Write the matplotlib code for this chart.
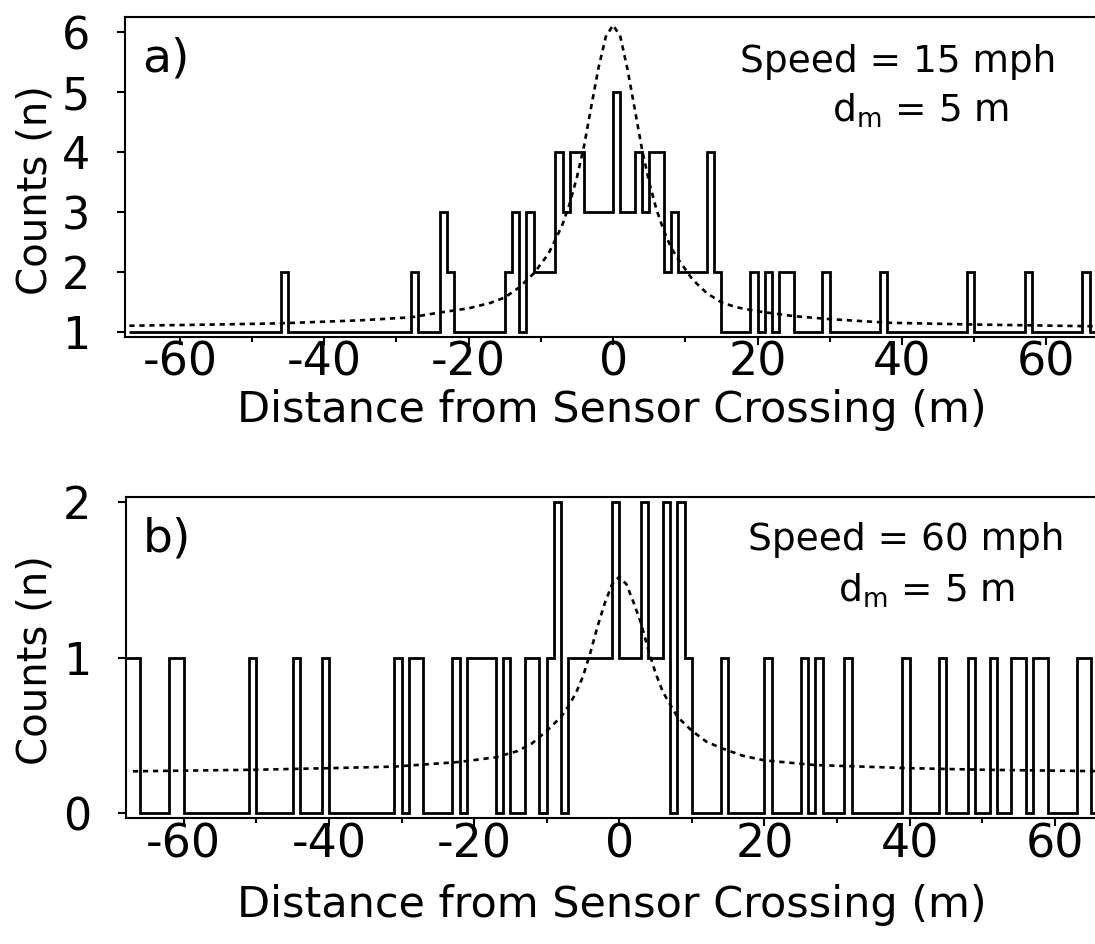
import matplotlib
matplotlib.use("Agg")
import matplotlib.pyplot as plt
from matplotlib.ticker import MultipleLocator
import numpy as np

plt.rcParams['font.family'] = 'DejaVu Sans'
plt.rcParams['axes.unicode_minus'] = False

# histogram a) : 1 m bins, count is 1 except for the bins listed here
top_lo, top_hi, top_base = -67, 68, 1
top_bin_left = [-46, -28, -24, -23, -15, -14, -13, -12, -11, -10,
                -9, -8, -7, -6, -5, -4, -3, -2, -1, 0,
                1, 2, 3, 4, 5, 6, 7, 8, 9, 10,
                11, 12, 13, 14, 19, 21, 23, 24, 29, 37,
                49, 57, 65]
top_bin_count = [2, 2, 3, 2, 2, 3, 1, 3, 2, 2,
                 2, 4, 3, 4, 4, 3, 3, 3, 3, 5,
                 3, 3, 4, 3, 4, 4, 2, 3, 2, 2,
                 2, 2, 4, 2, 2, 2, 2, 2, 2, 2,
                 2, 2, 2]
# fitted curve a)
top_fit_x = [-67, -55, -46, -35, -28, -24, -20, -17, -15, -13, -11, -9, -8, -7, -6, -5, -4, -3, -2, -1,
             0, 1, 2, 3, 4, 5, 6, 7, 8, 9, 11, 13, 15, 17, 20, 25, 30, 38, 50, 67]
top_fit_y = [1.11, 1.13, 1.15, 1.20, 1.25, 1.33, 1.40, 1.49, 1.58, 1.75, 1.98, 2.30, 2.54, 2.80, 3.15, 3.59, 4.12, 4.78, 5.42, 5.93,
             6.12, 5.93, 5.38, 4.72, 4.05, 3.50, 3.05, 2.70, 2.42, 2.22, 1.88, 1.65, 1.50, 1.42, 1.35, 1.27, 1.22, 1.16, 1.13, 1.10]

# histogram b) : 1 m bins, count is 0 except for the bins listed here
bot_lo, bot_hi, bot_base = -68, 68, 0
bot_bin_left = [-68, -67, -62, -61, -51, -45, -41, -31, -29, -28,
                -23, -21, -20, -19, -18, -16, -13, -12, -10, -9,
                -7, -6, -5, -4, -3, -2, -1, 0, 1, 2,
                3, 4, 5, 6, 8, 9, 14, 20, 25, 27,
                31, 39, 44, 48, 51, 54, 55, 57, 58, 63,
                64]
bot_bin_count = [1, 1, 1, 1, 1, 1, 1, 1, 1, 1,
                 1, 1, 1, 1, 1, 1, 1, 1, 1, 2,
                 1, 1, 1, 1, 1, 1, 2, 1, 1, 1,
                 2, 1, 1, 2, 2, 1, 1, 1, 1, 1,
                 1, 1, 1, 1, 1, 1, 1, 1, 1, 1,
                 1]
bot_fit_x = [-67, -50, -40, -31, -22, -17, -14, -12, -10, -8, -7, -6, -5, -4, -3, -2, -1,
             0, 1, 2, 3, 4, 5, 6, 7, 8, 10, 12, 14, 17, 20, 27, 40, 50, 67]
bot_fit_y = [0.27, 0.28, 0.29, 0.30, 0.33, 0.36, 0.40, 0.45, 0.53, 0.62, 0.69, 0.77, 0.88, 1.03, 1.20, 1.35, 1.47,
             1.52, 1.47, 1.35, 1.22, 1.05, 0.90, 0.78, 0.70, 0.62, 0.53, 0.46, 0.42, 0.37, 0.34, 0.31, 0.29, 0.28, 0.27]


def full_counts(lo, hi, base, lefts, counts):
    edges = np.arange(lo, hi + 1)
    vals = np.full(len(edges) - 1, base)
    for b, c in zip(lefts, counts):
        vals[b - lo] = c
    return edges, vals


fig = plt.figure(figsize=(10.95, 9.44), dpi=100)
W, H = 1095, 944

panels = [
    dict(box=(125, 17.3, 982.7, 319.4), xlim=(-67.6, 68.5), ylim=(0.927, 6.25), yticks=[1, 2, 3, 4, 5, 6],
         hist=full_counts(top_lo, top_hi, top_base, top_bin_left, top_bin_count),
         fit=(top_fit_x, top_fit_y), tag='a)', speed='Speed = 15 mph',
         tag_y=0.8297, sp=(0.787, 0.8297), dm=(0.810, 0.673), ylab_y=190, xlab_y=410),
    dict(box=(126, 497.3, 990.6, 321.0), xlim=(-67.95, 68.5), ylim=(-0.032, 2.03), yticks=[0, 1, 2],
         hist=full_counts(bot_lo, bot_hi, bot_base, bot_bin_left, bot_bin_count),
         fit=(bot_fit_x, bot_fit_y), tag='b)', speed='Speed = 60 mph',
         tag_y=0.8305, sp=(0.7874, 0.8358), dm=(0.8083, 0.6748), ylab_y=660, xlab_y=905),
]

for p in panels:
    x0, y0, w, h = p['box']
    ax = fig.add_axes([x0 / W, 1 - (y0 + h) / H, w / W, h / H])
    edges, vals = p['hist']
    ax.stairs(vals, edges, baseline=None, color='black', linewidth=2.0)
    ax.plot(p['fit'][0], p['fit'][1], color='black', linewidth=1.9, dashes=(2.0, 1.8))
    ax.set_xlim(*p['xlim'])
    ax.set_ylim(*p['ylim'])
    ax.xaxis.set_major_locator(MultipleLocator(20))
    ax.xaxis.set_minor_locator(MultipleLocator(10))
    ax.set_yticks(p['yticks'])
    ax.tick_params(which='major', direction='out', length=6, width=1.5)
    ax.tick_params(which='minor', direction='out', length=3.5, width=1.5)
    ax.tick_params(axis='x', labelsize=33, pad=-3)
    ax.tick_params(axis='y', labelsize=32, pad=19)
    for s in ax.spines.values():
        s.set_linewidth(1.5)
    ax.text(0.017, p['tag_y'], p['tag'], transform=ax.transAxes, fontsize=34, ha='left', va='baseline')
    ax.text(p['sp'][0], p['sp'][1], p['speed'], transform=ax.transAxes, fontsize=27, ha='center', va='baseline')
    ax.text(p['dm'][0], p['dm'][1], r'd$_{\mathregular{m}}$ = 5 m', transform=ax.transAxes, fontsize=27,
            ha='center', va='baseline')
    fig.text(36 / W, 1 - p['ylab_y'] / H, 'Counts (n)', rotation=90, ha='center', va='center', fontsize=29)
    fig.text(612 / W, 1 - p['xlab_y'] / H, 'Distance from Sensor Crossing (m)', ha='center', va='center',
             fontsize=31)

fig.savefig('out.png', dpi=100)
